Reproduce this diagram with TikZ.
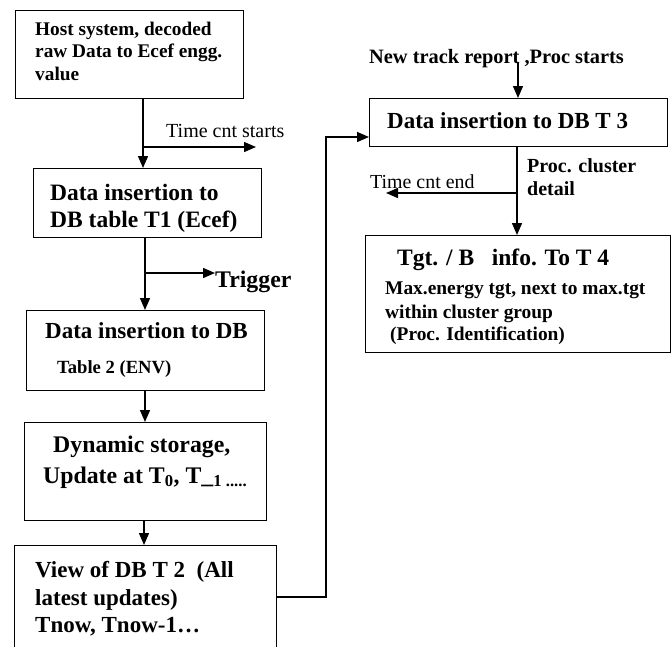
\documentclass[tikz,border=0pt]{standalone}
\usepackage{fontspec}
\setmainfont{Liberation Serif}
\usetikzlibrary{arrows.meta}
\newcommand\fsz[1]{\fontsize{#1}{#1}\selectfont}
\tikzset{
  box/.style={draw, line width=1.4pt, inner sep=0pt, anchor=north west},
  arr/.style={line width=1.4pt, -{Triangle[length=12pt,width=10pt]}},
  bt/.style={anchor=base west, inner sep=0pt, font=\bfseries\fsz{#1}},
  rt/.style={anchor=base west, inner sep=0pt, font=\fsz{#1}},
}
\begin{document}
\begin{tikzpicture}[x=1pt,y=-1pt]
\useasboundingbox (0,0) rectangle (672,646);
\clip (0,0) rectangle (672,646);
% boxes
\node[box, minimum width=228pt, minimum height=88pt] (b1) at (15,10) {};
\node[box, minimum width=228pt, minimum height=69pt] (b2) at (33,168) {};
\node[box, minimum width=238pt, minimum height=80pt] (b3) at (26,310) {};
\node[box, minimum width=242pt, minimum height=98pt] (b4) at (24,422) {};
\node[box, minimum width=262pt, minimum height=130pt] (b5) at (14,545) {};
\node[box, minimum width=298pt, minimum height=48pt] (b6) at (369,98) {};
\node[box, minimum width=305pt, minimum height=117pt] (b7) at (365,235) {};
% texts in boxes
\node[bt=19.3] (t1a) at (35,35) {Host system, decoded};
\node[bt=19.3] (t1b) at (35,57) {raw Data to Ecef engg.};
\node[bt=19.3] (t1c) at (35,80) {value};
\node[bt=23.5] (t2a) at (50,200) {Data insertion to};
\node[bt=23.5] (t2b) at (50,227) {DB table T1 (Ecef)};
\node[bt=23] (t3a) at (45,338) {Data insertion to DB};
\node[bt=18.6] (t3b) at (57,373) {Table 2 (ENV)};
\node[bt=23.8] (t4a) at (53,452) {Dynamic storage,};
\node[bt=23.8] (t4b) at (43,483) {Update at T\textsubscript{0}, T\_\textsubscript{1 .....}};
\node[bt=23] (t5a) at (35,577) {View of DB T 2\ \ (All};
\node[bt=23] (t5b) at (35,605) {latest updates)};
\node[bt=23] (t5c) at (35,632) {Tnow, Tnow-1…};
\node[bt=23] (t6a) at (387,128) {Data insertion to DB T 3};
\node[bt=23.5] (t7a) at (397,265) {Tgt. / B\ \ \ info. To T 4};
\node[bt=19.4] (t7b) at (385,294) {Max.energy tgt, next to max.tgt};
\node[bt=19.4] (t7c) at (385,318) {within cluster group};
\node[bt=19.4] (t7d) at (390,340) {(Proc. Identification)};
% free labels
\node[rt=20] (l1) at (166,137) {Time cnt starts};
\node[bt=23.8] (l2) at (215,287) {Trigger};
\node[bt=20.4] (l3) at (369,63) {New track report ,Proc starts};
\node[rt=19.9] (l4) at (370,188) {Time cnt end};
\node[bt=20] (l5a) at (527,172) {Proc. cluster};
\node[bt=20] (l5b) at (527,195) {detail};
% helper coordinates
\coordinate (x1) at (143,0);
\coordinate (x2) at (145,0);
\coordinate (x3) at (144,0);
\coordinate (k1) at (143,147);
\coordinate (e1) at (256,147);
\coordinate (k2) at (145,273);
\coordinate (e2) at (215,273);
\coordinate (y5) at (0,597);
\coordinate (xv) at (326,0);
\coordinate (y6) at (0,137);
\coordinate (s6) at (518,62);
\coordinate (x5) at (517,0);
\coordinate (k5) at (517,193);
\coordinate (e5) at (386,193);
% connectors
\draw[arr] (b1.south -| x1) -- (b2.north -| x1);
\draw[arr] (k1) -- (e1);
\draw[arr] (b2.south -| x2) -- (b3.north -| x2);
\draw[arr] (k2) -- (e2);
\draw[arr] (b3.south -| x2) -- (b4.north -| x2);
\draw[arr] (b4.south -| x3) -- (b5.north -| x3);
\draw[arr] (b5.east |- y5) -| (xv |- y6) -- (b6.west |- y6);
\draw[arr] (s6) -- (b6.north -| s6);
\draw[arr] (b6.south -| x5) -- (b7.north -| x5);
\draw[arr] (k5) -- (e5);
\end{tikzpicture}
\end{document}
